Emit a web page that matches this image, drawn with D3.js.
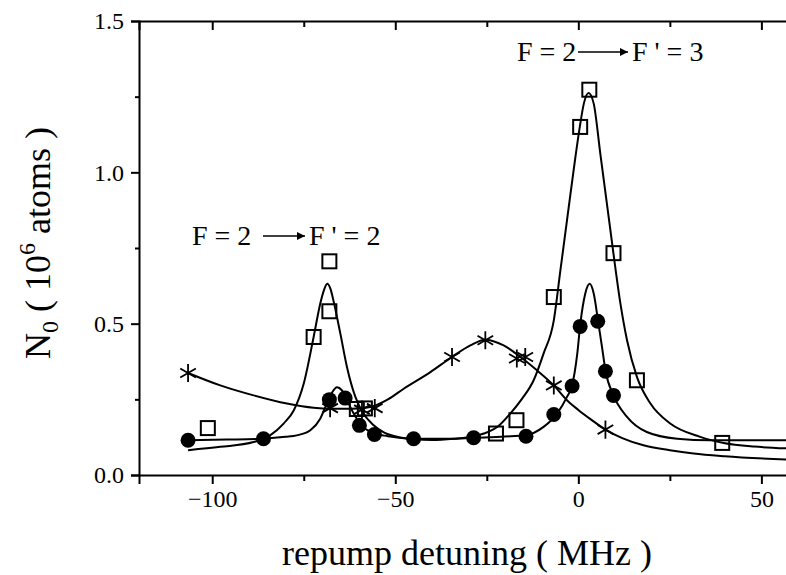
<!DOCTYPE html>
<html lang="en">
<head>
<meta charset="UTF-8" />
<title>Repump detuning</title>
<script src="https://cdnjs.cloudflare.com/ajax/libs/d3/7.8.5/d3.min.js"></script>
<style>
  body { margin: 0; background: #fff; }
  svg { display: block; }
  text { font-family: "Liberation Serif", "Times New Roman", serif; fill: #000; }
  .tick text { font-size: 24px; }
  .domain, .tick line { stroke: #000; stroke-width: 2px; }
  .fit { fill: none; stroke: #000; stroke-width: 2px; }
</style>
</head>
<body>
<svg id="chart" width="786" height="575"></svg>
<script>
// ---- data ----
// open squares
const sqX = [-101.2, -72.3, -68.0, -68.0, -60.5, -58.3, -22.5, -16.9, -6.7, 0.5, 3.0, 9.6, 16.0, 39.3];
const sqY = [0.155, 0.456, 0.706, 0.541, 0.218, 0.220, 0.137, 0.181, 0.588, 1.150, 1.273, 0.733, 0.313, 0.106];
// filled circles
const ciX = [-106.6, -86.0, -68.0, -63.7, -59.8, -55.7, -45.0, -28.6, -14.3, -6.7, -1.7, 0.5, 5.3, 7.4, 9.6];
const ciY = [0.115, 0.120, 0.249, 0.254, 0.164, 0.134, 0.120, 0.123, 0.128, 0.200, 0.294, 0.491, 0.508, 0.343, 0.263];
// stars
const stX = [-106.6, -67.8, -59.1, -55.6, -34.5, -25.4, -16.8, -14.5, -6.7, 7.4];
const stY = [0.337, 0.221, 0.216, 0.221, 0.390, 0.445, 0.385, 0.390, 0.296, 0.150];

// fitted curves (traced)
const fitSqX = [-106.6, -97.8, -88.7, -84.2, -80.5, -77.7, -75.0, -72.3, -70.5, -69.5, -68.6, -67.7, -66.9, -65.0, -63.2, -60.9, -58.7, -56.0, -53.0, -49.0, -45.0, -40.0, -34.0, -29.5, -25.8, -22.0, -18.6, -15.5, -12.2, -9.5, -6.7, -4.9, -3.1, -1.3, 0.4, 1.5, 2.8, 4.2, 6.0, 7.8, 9.6, 11.5, 13.3, 16.0, 19.7, 25.1, 33.3, 39.7, 48.0, 57.0];
const fitSqY = [0.082, 0.093, 0.109, 0.131, 0.170, 0.214, 0.302, 0.456, 0.566, 0.610, 0.632, 0.615, 0.577, 0.467, 0.357, 0.258, 0.203, 0.165, 0.140, 0.125, 0.118, 0.116, 0.120, 0.126, 0.137, 0.160, 0.203, 0.250, 0.313, 0.401, 0.511, 0.676, 0.841, 1.006, 1.150, 1.227, 1.262, 1.227, 1.062, 0.897, 0.731, 0.566, 0.445, 0.324, 0.236, 0.170, 0.126, 0.106, 0.094, 0.088];

const fitCiX = [-106.6, -96, -86, -80, -76.9, -73.2, -70.5, -68.7, -67.3, -65.9, -64.6, -63.4, -62.3, -59.6, -56.8, -52, -45, -35, -28.6, -20, -14.5, -9.5, -5.8, -3.1, -1.7, -0.3, 0.55, 1.9, 3.1, 4.2, 5.5, 6.5, 7.4, 9.6, 13.3, 18.7, 27, 36, 57];
const fitCiY = [0.115, 0.117, 0.120, 0.126, 0.131, 0.148, 0.186, 0.236, 0.272, 0.290, 0.280, 0.255, 0.225, 0.170, 0.142, 0.128, 0.120, 0.120, 0.123, 0.127, 0.131, 0.159, 0.203, 0.258, 0.296, 0.400, 0.500, 0.600, 0.632, 0.600, 0.500, 0.420, 0.346, 0.263, 0.192, 0.142, 0.120, 0.115, 0.115];

const fitStX = [-106.6, -97.8, -88.7, -79.6, -72.3, -67.8, -62, -56.8, -52, -47.7, -40.4, -34.5, -29.5, -25.4, -20.4, -15.8, -11.3, -6.7, -3.1, 0, 3.5, 7.4, 12, 17.8, 25, 31.5, 40, 57];
const fitStY = [0.337, 0.296, 0.263, 0.236, 0.222, 0.219, 0.219, 0.225, 0.250, 0.285, 0.340, 0.390, 0.428, 0.447, 0.428, 0.390, 0.346, 0.296, 0.247, 0.215, 0.183, 0.150, 0.122, 0.098, 0.082, 0.071, 0.062, 0.051];

const xMajor = [-100, -50, 0, 50];
const xMinor = [-75, -25, 25];
const yMajor = [0.0, 0.5, 1.0, 1.5];
const yMinor = [0.25, 0.75, 1.25];

// ---- layout ----
const svg = d3.select("#chart");
const plotL = 139, plotR = 798, plotT = 21, plotB = 475;

const x = d3.scaleLinear().domain([-120, 60]).range([plotL, plotR]);
const y = d3.scaleLinear().domain([0, 1.5]).range([plotB, plotT]);

const zip = (a, b) => a.map((v, i) => [v, b[i]]);

// axes: major ticks with labels, minor ticks without
function drawAxis(axisFn, scale, pos, major, minor, majLen, minLen, fmt, labels) {
  const g = svg.append("g").attr("transform", pos);
  g.call(axisFn(scale).tickValues(major).tickSize(majLen).tickFormat(labels ? fmt : ""));
  g.append("g").call(axisFn(scale).tickValues(minor).tickSize(minLen).tickFormat(""))
    .select(".domain").remove();
  g.attr("font-family", null).attr("font-size", null);
  return g;
}

const bx = drawAxis(d3.axisBottom, x, `translate(0,${plotB})`, xMajor, xMinor, 9, 6, d3.format("d"), true);
bx.selectAll(".tick text").attr("dy", "0.9em").attr("y", 10);
drawAxis(d3.axisTop, x, `translate(0,${plotT})`, xMajor, xMinor, -9, -6, null, false);
const ly = drawAxis(d3.axisLeft, y, `translate(${plotL},0)`, yMajor, yMinor, 8, 4, d3.format(".1f"), true);
ly.selectAll(".tick text").attr("x", -15);
drawAxis(d3.axisRight, y, `translate(${plotR},0)`, yMajor, yMinor, -8, -4, null, false);

// ---- fit curves ----
const line = d3.line().x(d => x(d[0])).y(d => y(d[1])).curve(d3.curveMonotoneX);
svg.append("path").attr("class", "fit").attr("d", line(zip(fitSqX, fitSqY)));
svg.append("path").attr("class", "fit").attr("d", line(zip(fitCiX, fitCiY)));
svg.append("path").attr("class", "fit").attr("d", line(zip(fitStX, fitStY)));

// ---- markers ----
svg.append("g").selectAll("path")
  .data(zip(stX, stY)).join("path")
  .attr("transform", d => `translate(${x(d[0])},${y(d[1])})`)
  .attr("d", d3.symbol(d3.symbolAsterisk, 230))
  .attr("fill", "none").attr("stroke", "#000").attr("stroke-width", 1.8);

svg.append("g").selectAll("rect")
  .data(zip(sqX, sqY)).join("rect")
  .attr("x", d => x(d[0]) - 7).attr("y", d => y(d[1]) - 7)
  .attr("width", 14).attr("height", 14)
  .attr("fill", "none").attr("stroke", "#000").attr("stroke-width", 2);

svg.append("g").selectAll("circle")
  .data(zip(ciX, ciY)).join("circle")
  .attr("cx", d => x(d[0])).attr("cy", d => y(d[1]))
  .attr("r", 7.5).attr("fill", "#000");

// ---- axis titles ----
svg.append("text")
  .attr("x", 467).attr("y", 565)
  .attr("text-anchor", "middle")
  .attr("font-size", 36)
  .text("repump detuning ( MHz )");

const yt = svg.append("text")
  .attr("transform", "translate(50,243) rotate(-90)")
  .attr("text-anchor", "middle")
  .attr("font-size", 36);
yt.append("tspan").text("N");
yt.append("tspan").attr("font-size", 24).attr("dy", 8).text("0");
yt.append("tspan").attr("dy", -8).text(" ( 10");
yt.append("tspan").attr("font-size", 24).attr("dy", -15).text("6");
yt.append("tspan").attr("dy", 15).text(" atoms )");

// ---- transition annotations ----
svg.append("defs").append("marker")
  .attr("id", "arrowHead").attr("viewBox", "0 0 10 10")
  .attr("refX", 10).attr("refY", 5)
  .attr("markerWidth", 14).attr("markerHeight", 8)
  .attr("markerUnits", "userSpaceOnUse")
  .attr("orient", "auto")
  .append("path").attr("d", "M0,0L10,5L0,10z").attr("fill", "#000");

function annotate(x0, base, a0, a1, x1, lhs, rhs) {
  svg.append("text").attr("x", x0).attr("y", base).attr("font-size", 28).text(lhs);
  svg.append("line")
    .attr("x1", a0).attr("x2", a1).attr("y1", base - 9).attr("y2", base - 9)
    .attr("stroke", "#000").attr("stroke-width", 1.5)
    .attr("marker-end", "url(#arrowHead)");
  svg.append("text").attr("x", x1).attr("y", base).attr("font-size", 28).text(rhs);
}
annotate(192, 245, 263, 305, 309, "F = 2", "F ' = 2");
annotate(517, 61, 578, 628, 632, "F = 2", "F ' = 3");
</script>
</body>
</html>
